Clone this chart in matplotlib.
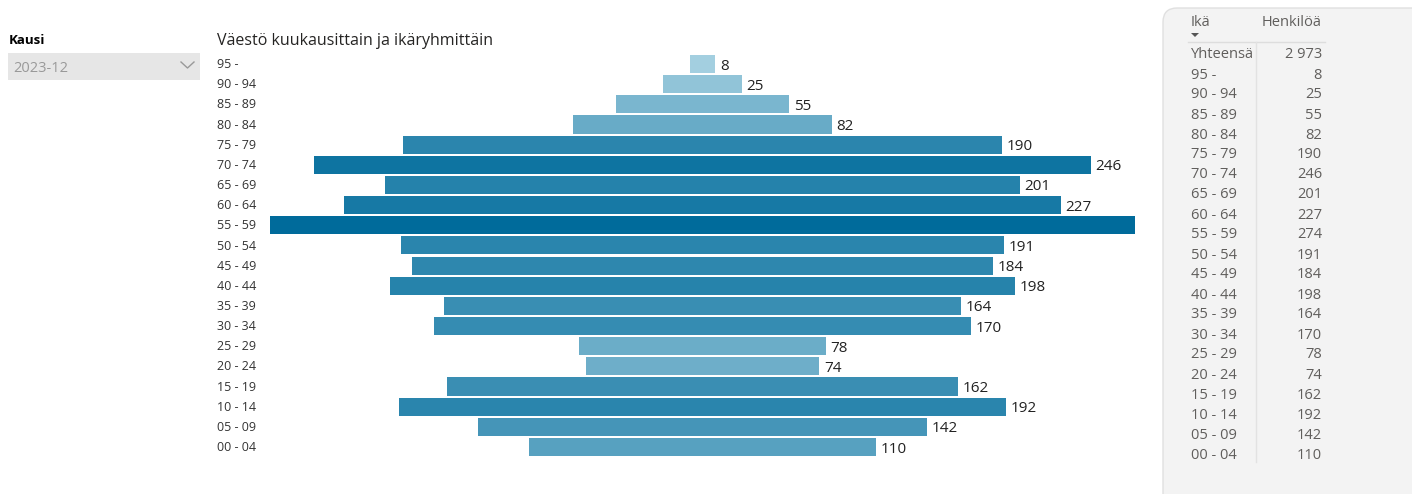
import numpy as np
import matplotlib
matplotlib.use('Agg')
import matplotlib.pyplot as plt
from matplotlib.patches import FancyBboxPatch, Rectangle
from matplotlib.colors import to_rgb

plt.rcParams['font.family'] = ['Open Sans', 'DejaVu Sans']

# data
age_groups = ['95 -', '90 - 94', '85 - 89', '80 - 84', '75 - 79', '70 - 74', '65 - 69',
              '60 - 64', '55 - 59', '50 - 54', '45 - 49', '40 - 44', '35 - 39', '30 - 34',
              '25 - 29', '20 - 24', '15 - 19', '10 - 14', '05 - 09', '00 - 04']
persons = [8, 25, 55, 82, 190, 246, 201, 227, 274, 191, 184, 198, 164, 170, 78, 74, 162, 192, 142, 110]
total_label = 'Yhteensä'
period = '2023-12'

W, H = 1412, 494
fig = plt.figure(figsize=(W / 100, H / 100), dpi=100)
fig.patch.set_facecolor('white')


def fx(px):
    return px / W


def fy(py):
    return 1 - py / H


# funnel axes
n = len(persons)
row_h = (447 - 64) / (n - 1)
top = 64 - row_h / 2
bottom = 447 + row_h / 2
ax = fig.add_axes([fx(270), fy(bottom), 865 / W, (bottom - top) / H])
vals = np.array(persons, dtype=float)
ypos = np.arange(n)

light = np.array(to_rgb('#a3cfe0'))
dark = np.array(to_rgb('#006b9b'))
t = (vals - vals.min()) / (vals.max() - vals.min())
colors = [tuple(light + (dark - light) * ti ** 0.8) for ti in t]

ax.barh(ypos, vals, left=-vals / 2, height=0.9, color=colors, edgecolor='none')
ax.set_xlim(-vals.max() / 2, vals.max() / 2)
ax.set_ylim(n - 0.5, -0.5)
ax.axis('off')

for i, v in enumerate(persons):
    ax.text(-0.0613, i + 0.03, age_groups[i], transform=ax.get_yaxis_transform(),
            ha='left', va='center', fontsize=9, color='#333333')
    if v != max(persons):
        ax.text(v / 2 + 1.5, i + 0.1, str(v), ha='left', va='center', fontsize=11, color='#222222')

fig.text(fx(217), fy(41), 'Väestö kuukausittain ja ikäryhmittäin', ha='left', va='center',
         fontsize=11.5, color='#252423')

# slicer
fig.text(fx(9), fy(40), 'Kausi', ha='left', va='center', fontsize=9.5, fontweight='bold', color='#000000')
fig.patches.append(Rectangle((fx(8), fy(80)), fx(192), (80 - 53) / H, transform=fig.transFigure,
                             facecolor='#e6e6e6', edgecolor='none'))
fig.text(fx(13), fy(68), period, ha='left', va='center', fontsize=10.5, color='#999999')
fig.lines.append(plt.Line2D([fx(181), fx(187.5), fx(194)], [fy(62), fy(68), fy(62)],
                            transform=fig.transFigure, color='#999999', lw=1))

# table panel
fig.patches.append(FancyBboxPatch((fx(1163), fy(520)), fx(270), (520 - 8) / H,
                                  boxstyle='round,pad=0,rounding_size=0.01',
                                  transform=fig.transFigure, facecolor='#f3f3f3',
                                  edgecolor='#e0e0e0', lw=1, mutation_aspect=W / H))
tc = '#605e5c'
fig.text(fx(1191), fy(22), 'Ikä', ha='left', va='center', fontsize=10.5, color=tc)
fig.text(fx(1322), fy(22), 'Henkilöä', ha='right', va='center', fontsize=10.5, color=tc)
fig.patches.append(plt.Polygon([[fx(1191), fy(33)], [fx(1199), fy(33)], [fx(1195), fy(37)]],
                               closed=True, transform=fig.transFigure, facecolor='#555555',
                               edgecolor='none'))
fig.lines.append(plt.Line2D([fx(1188), fx(1325)], [fy(42), fy(42)], transform=fig.transFigure,
                            color='#dddddd', lw=1))
fig.lines.append(plt.Line2D([fx(1256), fx(1256)], [fy(42), fy(462)], transform=fig.transFigure,
                            color='#e2e2e2', lw=1))

rows = [(total_label, '{:,}'.format(sum(persons)).replace(',', ' '))]
rows += [(a, str(p)) for a, p in zip(age_groups, persons)]
for k, (lab, val) in enumerate(rows):
    yy = fy(55 + 20 * k)
    fig.text(fx(1191), yy, lab, ha='left', va='center', fontsize=10.5, color=tc)
    fig.text(fx(1322), yy, val, ha='right', va='center', fontsize=10.5, color=tc)

fig.savefig('out.png', dpi=100, facecolor='white')
